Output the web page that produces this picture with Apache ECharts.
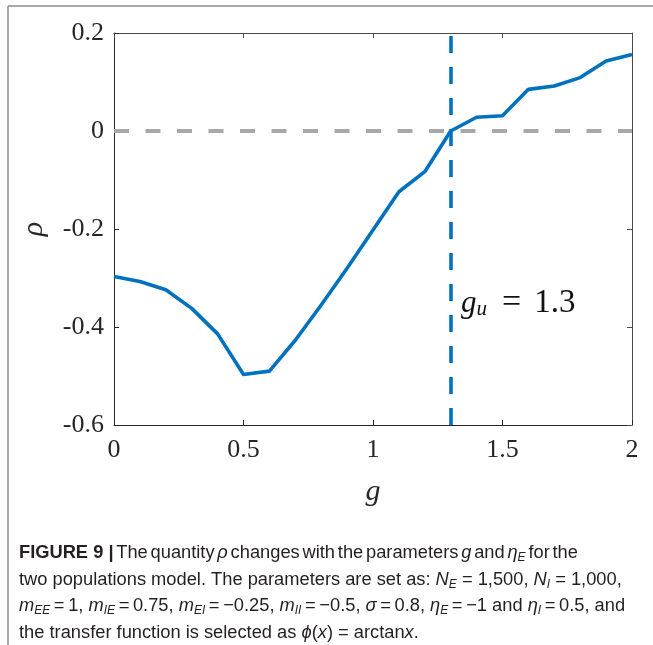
<!DOCTYPE html>
<html>
<head>
<meta charset="utf-8">
<style>
  html, body { margin: 0; padding: 0; background: #ffffff; }
  #chart { width: 653px; height: 645px; }
</style>
<script src="https://cdn.jsdelivr.net/npm/echarts@6/dist/echarts.min.js"></script>
</head>
<body>
<div id="chart"></div>
<script>
// Coupling strength g and the resulting quantity rho
const gValues = [0, 0.1, 0.2, 0.3, 0.4, 0.5, 0.6, 0.7, 0.8, 0.9, 1.0,
                 1.1, 1.2, 1.3, 1.4, 1.5, 1.6, 1.7, 1.8, 1.9, 2.0];
const rhoValues = [-0.297, -0.307, -0.324, -0.362, -0.414, -0.497, -0.490,
                   -0.427, -0.355, -0.280, -0.202, -0.124, -0.083, 0.000,
                   0.028, 0.031, 0.085, 0.092, 0.109, 0.143, 0.156];
const xTicks = [0, 0.5, 1, 1.5, 2];
const yTicks = [-0.6, -0.4, -0.2, 0, 0.2];
const gU = 1.3;             // critical coupling
const zeroLevel = 0;
const gULabelAt = [1.34, -0.352];

const serif = '"Liberation Serif", "Times New Roman", serif';
const capFont = '"Liberation Sans Narrow", "Liberation Sans", Arial, sans-serif';
const blue = '#0072BD';
const axisColor = '#262626';
const capColor = '#231f20';
const capSize = 18.3;

const chart = echarts.init(document.getElementById('chart'), null, { renderer: 'canvas' });

const fmtTick = v => String(Math.round(v * 10) / 10);

const captionRich = {
  b: { fontFamily: capFont, fontSize: capSize, fontWeight: 'bold', color: capColor },
  i: { fontFamily: capFont, fontSize: capSize, fontStyle: 'italic', color: capColor },
  s: { fontFamily: capFont, fontSize: 12, fontStyle: 'italic', color: capColor, padding: [10, 0, 0, 0] },
  w: { fontFamily: capFont, fontSize: 10, color: capColor },   // narrow word gap
  t: { fontFamily: capFont, fontSize: 13, color: capColor }    // tight gap around "="
};
// narrow-gap helpers for the caption
const W = '{w| }';
const T = '{t| }';
const captionLines = [
  ['{b|FIGURE 9 |}', 'The', 'quantity', '{i|ρ}', 'changes', 'with', 'the', 'parameters',
   '{i|g}', 'and', '{i|η}{s|E}', 'for', 'the'].join(W),
  'two populations model. The parameters are set as: {i|N}{s|E} = 1,500, {i|N}{s|I} = 1,000,',
  `{i|m}{s|EE}${T}=${T}1, {i|m}{s|IE}${T}=${T}0.75, {i|m}{s|EI}${T}=${T}−0.25, {i|m}{s|II}${T}=${T}−0.5, ` +
  `{i|σ}${T}=${T}0.8, {i|η}{s|E}${T}=${T}−1 and {i|η}{s|I}${T}=${T}0.5, and`,
  'the transfer function is selected as {i|ϕ}({i|x}) = arctan{i|x}.'
];

const captionGraphics = captionLines.map((txt, k) => ({
  type: 'text',
  left: 19,
  top: 541 + k * 26.5,
  style: {
    text: txt,
    rich: captionRich,
    fontFamily: capFont,
    fontSize: capSize,
    fill: capColor,
    lineHeight: 24
  }
}));

const option = {
  backgroundColor: '#ffffff',
  animation: false,
  grid: { left: 114, right: 21, top: 33, bottom: 220, containLabel: false },
  xAxis: [{
    type: 'value', min: 0, max: 2, interval: 0.5,
    name: 'g', nameLocation: 'middle', nameGap: 52,
    nameTextStyle: { fontFamily: serif, fontSize: 30, fontStyle: 'italic', color: axisColor },
    axisLine: { show: true, onZero: false, lineStyle: { color: axisColor, width: 1 } },
    axisTick: { show: true, inside: true, length: 5, lineStyle: { color: axisColor } },
    axisLabel: { fontFamily: serif, fontSize: 26, color: axisColor, margin: 12, formatter: fmtTick,
                 customValues: xTicks },
    splitLine: { show: false }
  }, {
    type: 'value', min: 0, max: 2, interval: 0.5, position: 'top',
    axisLine: { show: true, onZero: false, lineStyle: { color: '#4a4a4a', width: 1 } },
    axisTick: { show: true, inside: true, length: 5, lineStyle: { color: '#4a4a4a' } },
    axisLabel: { show: false },
    splitLine: { show: false }
  }],
  yAxis: [{
    type: 'value', min: -0.6, max: 0.2, interval: 0.2,
    name: 'ρ', nameLocation: 'middle', nameGap: 65, nameRotate: 90,
    nameTextStyle: { fontFamily: serif, fontSize: 30, fontStyle: 'italic', color: axisColor },
    axisLine: { show: true, onZero: false, lineStyle: { color: axisColor, width: 1 } },
    axisTick: { show: true, inside: true, length: 5, lineStyle: { color: axisColor } },
    axisLabel: { fontFamily: serif, fontSize: 26, color: axisColor, margin: 10, formatter: fmtTick,
                 customValues: yTicks },
    splitLine: { show: false }
  }, {
    type: 'value', min: -0.6, max: 0.2, interval: 0.2, position: 'right',
    axisLine: { show: true, onZero: false, lineStyle: { color: '#4a4a4a', width: 1 } },
    axisTick: { show: true, inside: true, length: 5, lineStyle: { color: '#4a4a4a' } },
    axisLabel: { show: false },
    splitLine: { show: false }
  }],
  series: [{
    type: 'line',
    data: gValues.map((g, k) => [g, rhoValues[k]]),
    showSymbol: false,
    symbol: 'none',
    lineStyle: { color: blue, width: 3.6, join: 'round' },
    z: 5,
    markLine: {
      silent: true,
      symbol: ['none', 'none'],
      label: { show: false },
      data: [
        { yAxis: zeroLevel, lineStyle: { color: '#a8a8a8', width: 4, type: [15, 16.5] } },
        { xAxis: gU, lineStyle: { color: blue, width: 3.6, type: [17, 14] } }
      ]
    },
    markPoint: {
      silent: true,
      symbol: 'circle',
      symbolSize: 0,
      data: [{ coord: gULabelAt }],
      label: {
        show: true,
        position: [0, 0],
        align: 'left',
        verticalAlign: 'middle',
        formatter: '{g|g}{u|u}{eq|=}{n|1.3}',
        rich: {
          g: { fontFamily: serif, fontSize: 31, fontStyle: 'italic', color: '#111' },
          u: { fontFamily: serif, fontSize: 21, fontStyle: 'italic', color: '#111', padding: [12, 0, 0, 0] },
          eq: { fontFamily: serif, fontSize: 34, color: '#111', padding: [0, 13, 0, 15] },
          n: { fontFamily: serif, fontSize: 33, color: '#111' }
        }
      }
    }
  }],
  graphic: [
    { type: 'line', shape: { x1: 8, y1: 6, x2: 653, y2: 6 }, style: { stroke: '#8c8c8c', lineWidth: 1.5 } },
    { type: 'line', shape: { x1: 8, y1: 6, x2: 8, y2: 645 }, style: { stroke: '#8c8c8c', lineWidth: 1.5 } }
  ].concat(captionGraphics)
};

chart.setOption(option);
</script>
</body>
</html>
